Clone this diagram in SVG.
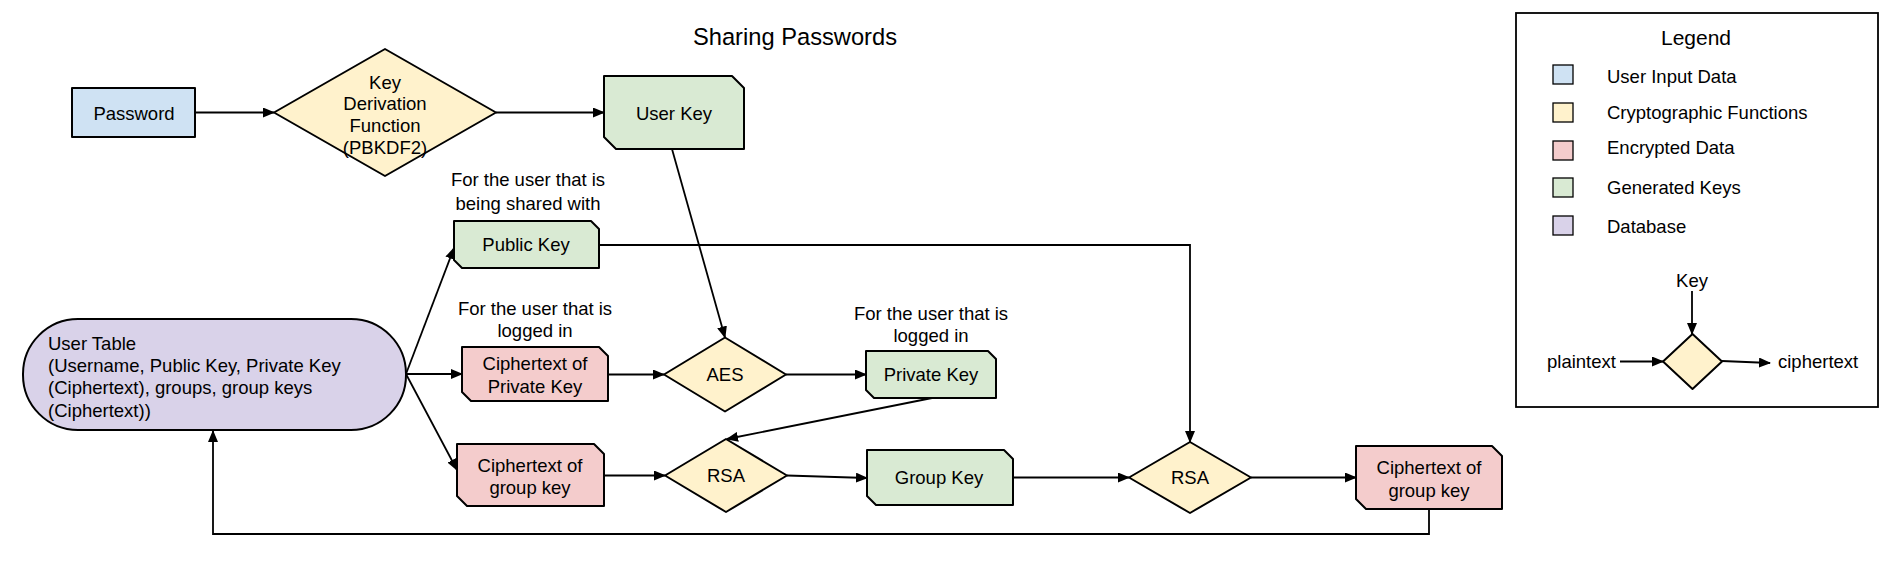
<svg xmlns="http://www.w3.org/2000/svg" width="1893" height="565" viewBox="0 0 1893 565">
<style>
text{font-family:"Liberation Sans",Arial,sans-serif;font-size:18.5px;fill:#000}
.c{text-anchor:middle}
.n{stroke:#000;stroke-width:2;stroke-linejoin:round}
.blue{fill:#cfe2f3}.yel{fill:#fff2cc}.red{fill:#f4cccc}.grn{fill:#d9ead3}.pur{fill:#d9d2e9}
.e{fill:none;stroke:#000;stroke-width:1.8;marker-end:url(#ah)}
.l{fill:none;stroke:#000;stroke-width:1.8}
.sq{stroke:#000;stroke-width:1.3}
</style>
<defs>
<marker id="ah" markerUnits="userSpaceOnUse" markerWidth="12" markerHeight="10" refX="11" refY="5" orient="auto">
<path d="M0,0 L12,5 L0,10 Z" fill="#000"/>
</marker>
</defs>
<rect width="1893" height="565" fill="#fff"/>
<text class="c" x="795" y="45" style="font-size:23.7px">Sharing Passwords</text>

<g id="connectors">
<path class="e" d="M195,112.5 H274"/>
<path class="e" d="M496,112.5 H604"/>
<path class="e" d="M672,149 L725,337.5"/>
<path class="e" d="M599,245 H1190 V442"/>
<path class="e" d="M406,374 L454,248"/>
<path class="e" d="M406,374 H462"/>
<path class="e" d="M406,374 L457,470"/>
<path class="e" d="M608,374.5 H664"/>
<path class="e" d="M786,374.5 H866"/>
<path class="e" d="M932,398 L727,439"/>
<path class="e" d="M604,475.5 H665"/>
<path class="e" d="M787,475.5 L867,478"/>
<path class="e" d="M1013,477.5 H1129"/>
<path class="e" d="M1251,477.5 H1356"/>
<path class="e" d="M1429,509 V534 H213 V431"/>
</g>

<g id="password">
<rect class="n blue" x="72" y="88" width="123" height="49"/>
<text class="c" x="134" y="119.5">Password</text>
</g>
<g id="kdf">
<polygon class="n yel" points="274,112.5 385,49 496,112.5 385,176"/>
<text class="c" x="385" y="88.5">Key</text>
<text class="c" x="385" y="109.5">Derivation</text>
<text class="c" x="385" y="131.5">Function</text>
<text class="c" x="385" y="153.5">(PBKDF2)</text>
</g>
<g id="userkey">
<path class="n grn" d="M604,76 H732 L744,88 V149 H616 L604,137 Z"/>
<text class="c" x="674" y="119.5">User Key</text>
</g>
<g id="label-shared">
<text class="c" x="528" y="185.5">For the user that is</text>
<text class="c" x="528" y="209.5">being shared with</text>
</g>
<g id="publickey">
<path class="n grn" d="M454,221 H591 L599,229 V268 H462 L454,260 Z"/>
<text class="c" x="526" y="251">Public Key</text>
</g>
<g id="label-loggedin1">
<text class="c" x="535" y="314.5">For the user that is</text>
<text class="c" x="535" y="336.5">logged in</text>
</g>
<g id="cipher-private">
<path class="n red" d="M462,347 H599 L608,356 V401 H471 L462,392 Z"/>
<text class="c" x="535" y="369.5">Ciphertext of</text>
<text class="c" x="535" y="392.5">Private Key</text>
</g>
<g id="aes">
<polygon class="n yel" points="664,374.5 725,337.5 786,374.5 725,411.5"/>
<text class="c" x="725" y="381">AES</text>
</g>
<g id="label-loggedin2">
<text class="c" x="931" y="319.5">For the user that is</text>
<text class="c" x="931" y="341.5">logged in</text>
</g>
<g id="privatekey">
<path class="n grn" d="M866,351 H988 L996,359 V398 H874 L866,390 Z"/>
<text class="c" x="931" y="381">Private Key</text>
</g>
<g id="usertable">
<rect class="n pur" x="23" y="319" width="383" height="111" rx="55" ry="55"/>
<text x="48" y="349.5">User Table</text>
<text x="48" y="371.5">(Username, Public Key, Private Key</text>
<text x="48" y="393.5">(Ciphertext), groups, group keys</text>
<text x="48" y="416.5">(Ciphertext))</text>
</g>
<g id="cipher-group-in">
<path class="n red" d="M457,444 H594 L604,454 V506 H467 L457,496 Z"/>
<text class="c" x="530" y="471.5">Ciphertext of</text>
<text class="c" x="530" y="493.5">group key</text>
</g>
<g id="rsa-decrypt">
<polygon class="n yel" points="665,475.5 726,439 787,475.5 726,512"/>
<text class="c" x="726" y="482">RSA</text>
</g>
<g id="groupkey">
<path class="n grn" d="M867,450 H1004 L1013,459 V505 H876 L867,496 Z"/>
<text class="c" x="939" y="484">Group Key</text>
</g>
<g id="rsa-encrypt">
<polygon class="n yel" points="1129,477.5 1190,442 1251,477.5 1190,513"/>
<text class="c" x="1190" y="484">RSA</text>
</g>
<g id="cipher-group-out">
<path class="n red" d="M1356,446 H1492 L1502,456 V509 H1366 L1356,499 Z"/>
<text class="c" x="1429" y="473.5">Ciphertext of</text>
<text class="c" x="1429" y="496.5">group key</text>
</g>

<g id="legend">
<rect x="1516" y="13" width="362" height="394" fill="#fff" stroke="#000" stroke-width="1.8"/>
<text class="c" x="1696" y="45" style="font-size:21px">Legend</text>
<rect class="sq blue" x="1553" y="65" width="20" height="19"/>
<rect class="sq yel" x="1553" y="103" width="20" height="19"/>
<rect class="sq red" x="1553" y="141" width="20" height="19"/>
<rect class="sq grn" x="1553" y="178" width="20" height="19"/>
<rect class="sq pur" x="1553" y="216" width="20" height="19"/>
<text x="1607" y="83">User Input Data</text>
<text x="1607" y="119">Cryptographic Functions</text>
<text x="1607" y="154">Encrypted Data</text>
<text x="1607" y="194">Generated Keys</text>
<text x="1607" y="233">Database</text>
<text class="c" x="1692" y="287">Key</text>
<path class="e" d="M1692,291 V334"/>
<polygon class="n yel" points="1663,361.5 1692.5,334 1722,361.5 1692.5,389"/>
<text x="1547" y="368">plaintext</text>
<path class="e" d="M1620,361.5 H1663"/>
<path class="e" d="M1722,361 L1770,363"/>
<text x="1778" y="368">ciphertext</text>
</g>
</svg>
